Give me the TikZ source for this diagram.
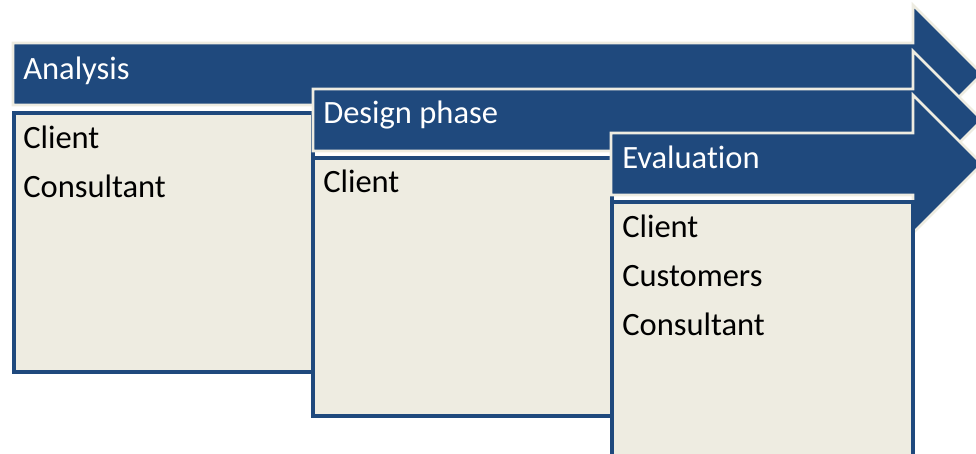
\documentclass[tikz,border=0pt]{standalone}
\usepackage{fontspec}
\setmainfont[Ligatures=NoCommon]{Carlito}
\definecolor{phaseblue}{HTML}{1F497D}
\definecolor{paper}{HTML}{EEECE1}
\usetikzlibrary{positioning}
\tikzset{
  phasearrow/.style = {fill = phaseblue, draw = paper, line width = 2pt, line join = miter},
  phasebox/.style = {rectangle, fill = paper, draw = phaseblue, line width = 2.8pt, inner sep = 0pt, anchor = north west},
  phaselabel/.style = {anchor = base west, inner sep = 0pt, text = white, font = \fontsize{24.4}{30}\selectfont},
  member/.style = {anchor = base west, inner sep = 0pt, text = black, font = \fontsize{24.4}{30}\selectfont}
}
\begin{document}
\begin{tikzpicture}[x = 0.75pt, y = -0.75pt]
\useasboundingbox (0,0) rectangle (976,454);
% analysis
\draw[phasearrow] (13,43) -- (913,43) -- (913,5) -- (982,74) -- (913,143) -- (913,105) -- (13,105) -- cycle;
\node[phaselabel] (analysis) at (23,79) {Analysis};
\node[phasebox, minimum width = 299*0.75pt, minimum height = 259*0.75pt] (anabox) at (12,111) {};
\node[member] (ana-client) at (23,148) {Client};
\node[member] (ana-consultant) at (23,197) {Consultant};
% design phase
\draw[phasearrow] (313,89) -- (913,89) -- (913,51) -- (982,120) -- (913,189) -- (913,151) -- (313,151) -- cycle;
\node[phaselabel] (design) at (323,123) {Design phase};
\node[phasebox, minimum width = 299*0.75pt, minimum height = 258*0.75pt] (desbox) at (311,156) {};
\node[member] (des-client) at (323,192) {Client};
% evaluation
\draw[phasearrow] (611,133) -- (913,133) -- (913,95) -- (982,164) -- (913,233) -- (913,195) -- (611,195) -- cycle;
\node[phaselabel] (evaluation) at (622,168) {Evaluation};
\node[phasebox, minimum width = 301*0.75pt, minimum height = 280*0.75pt] (evabox) at (610,200) {};
\node[member] (eva-client) at (622,237) {Client};
\node[member] (eva-customers) at (622,286) {Customers};
\node[member] (eva-consultant) at (622,335) {Consultant};
\end{tikzpicture}
\end{document}
